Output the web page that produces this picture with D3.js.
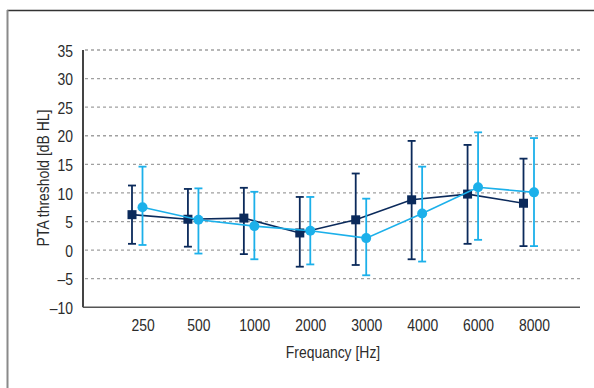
<!DOCTYPE html>
<html>
<head>
<meta charset="utf-8">
<script src="https://cdn.jsdelivr.net/npm/d3@7"></script>
<style>
  body { margin: 0; background: #fff; }
  text { font-family: "Liberation Sans", Arial, sans-serif; fill: #2b2b2b; }
</style>
</head>
<body>
<script>
// data
var freqs = ["250", "500", "1000", "2000", "3000", "4000", "6000", "8000"];
var yTicks = [-10, -5, 0, 5, 10, 15, 20, 25, 30, 35];

// dark series (squares)
var darkMean = [6.2, 5.4, 5.6, 3.0, 5.3, 8.8, 9.8, 8.2];
var darkHigh = [11.3, 10.7, 10.9, 9.3, 13.4, 19.1, 18.4, 16.0];
var darkLow  = [1.1, 0.6, -0.7, -2.9, -2.6, -1.6, 1.1, 0.7];

// light series (circles)
var lightMean = [7.5, 5.3, 4.2, 3.4, 2.1, 6.4, 11.0, 10.1];
var lightHigh = [14.6, 10.8, 10.2, 9.3, 9.0, 14.6, 20.6, 19.6];
var lightLow  = [0.9, -0.6, -1.6, -2.5, -4.4, -2.0, 1.8, 0.7];

var W = 594, H = 388;
var plotLeft = 83, plotRight = 580, plotTop = 50, plotBottom = 307.3;
var narrow = 0.82; // squeeze text to look condensed

var svg = d3.select("body").append("svg")
    .attr("width", W)
    .attr("height", H);

//outer frame
svg.append("line").attr("x1", 7).attr("x2", W).attr("y1", 10.5).attr("y2", 10.5)
    .style("stroke", "#333").style("stroke-width", 1.5);
svg.append("line").attr("x1", 7.5).attr("x2", 7.5).attr("y1", 10).attr("y2", H)
    .style("stroke", "#8a8a8a").style("stroke-width", 2);

var xScale = d3.scalePoint()
    .domain(freqs)
    .range([142.5, 534]);

var yScale = d3.scaleLinear()
    .domain([-10, 35])
    .range([plotBottom, plotTop]);

//gridlines
svg.append("g")
    .selectAll("line")
    .data(yTicks.filter(function(d) { return d > -10; }))
    .enter().append("line")
    .attr("x1", plotLeft + 2)
    .attr("x2", plotRight)
    .attr("y1", function(d) { return yScale(d); })
    .attr("y2", function(d) { return yScale(d); })
    .style("stroke", "#a0a0a0")
    .style("stroke-width", 1.3)
    .style("stroke-dasharray", "3,3");

//Y axis
var yAxis = d3.axisLeft(yScale).tickValues(yTicks).tickSize(0).tickPadding(10)
    .tickFormat(function(d) { return d < 0 ? "\u2013" + Math.abs(d) : d; });
var gy = svg.append("g")
    .attr("transform", "translate(" + plotLeft + ",0)")
    .call(yAxis);
gy.select(".domain").remove();
gy.selectAll("text")
    .attr("x", -10 / narrow)
    .attr("dy", "0.36em")
    .attr("transform", "scale(" + narrow + ",1)")
    .style("font-size", "17px");

svg.append("line").attr("x1", plotLeft).attr("x2", plotLeft).attr("y1", plotTop).attr("y2", plotBottom)
    .style("stroke", "#444").style("stroke-width", 2);

//X axis
var xAxis = d3.axisBottom(xScale).tickSize(0).tickPadding(12);
var gx = svg.append("g")
    .attr("transform", "translate(0," + plotBottom + ")")
    .call(xAxis);
gx.select(".domain").remove();
gx.selectAll("text")
    .attr("transform", "scale(" + narrow + ",1)")
    .style("font-size", "17px");

svg.append("line").attr("x1", plotLeft).attr("x2", plotRight).attr("y1", plotBottom).attr("y2", plotBottom)
    .style("stroke", "#555").style("stroke-width", 1.5);

//axis labels
svg.append("text")
    .attr("transform", "translate(333,358) scale(" + narrow + ",1)")
    .style("text-anchor", "middle")
    .style("font-size", "17px")
    .text("Frequancy [Hz]");

svg.append("text")
    .attr("transform", "translate(49,178) rotate(-90) scale(" + narrow + ",1)")
    .style("text-anchor", "middle")
    .style("font-size", "17px")
    .text("PTA threshold [dB HL]");

function drawSeries(mean, high, low, color, dx, shape) {
    var g = svg.append("g");
    var pts = freqs.map(function(f, i) {
        return { x: xScale(f) + dx, m: mean[i], hi: high[i], lo: low[i] };
    });

    //error bars
    g.selectAll(".bar").data(pts).enter().append("line")
        .attr("x1", function(d) { return d.x; })
        .attr("x2", function(d) { return d.x; })
        .attr("y1", function(d) { return yScale(d.hi); })
        .attr("y2", function(d) { return yScale(d.lo); })
        .style("stroke", color).style("stroke-width", 1.8);
    g.selectAll(".capTop").data(pts).enter().append("line")
        .attr("x1", function(d) { return d.x - 4; })
        .attr("x2", function(d) { return d.x + 4; })
        .attr("y1", function(d) { return yScale(d.hi); })
        .attr("y2", function(d) { return yScale(d.hi); })
        .style("stroke", color).style("stroke-width", 1.8);
    g.selectAll(".capBot").data(pts).enter().append("line")
        .attr("x1", function(d) { return d.x - 4; })
        .attr("x2", function(d) { return d.x + 4; })
        .attr("y1", function(d) { return yScale(d.lo); })
        .attr("y2", function(d) { return yScale(d.lo); })
        .style("stroke", color).style("stroke-width", 1.8);

    //connecting line
    var line = d3.line()
        .x(function(d) { return d.x; })
        .y(function(d) { return yScale(d.m); });
    g.append("path").datum(pts)
        .attr("d", line)
        .style("fill", "none")
        .style("stroke", color)
        .style("stroke-width", 1.6);

    //markers
    if (shape == "square") {
        g.selectAll(".mk").data(pts).enter().append("rect")
            .attr("x", function(d) { return d.x - 4.5; })
            .attr("y", function(d) { return yScale(d.m) - 4.5; })
            .attr("width", 9)
            .attr("height", 9)
            .style("fill", color);
    } else {
        g.selectAll(".mk").data(pts).enter().append("circle")
            .attr("cx", function(d) { return d.x; })
            .attr("cy", function(d) { return yScale(d.m); })
            .attr("r", 5)
            .style("fill", color);
    }
}

drawSeries(darkMean, darkHigh, darkLow, "#0b2a5b", -10.5, "square");
drawSeries(lightMean, lightHigh, lightLow, "#1cb0ea", 0, "circle");
</script>
</body>
</html>
